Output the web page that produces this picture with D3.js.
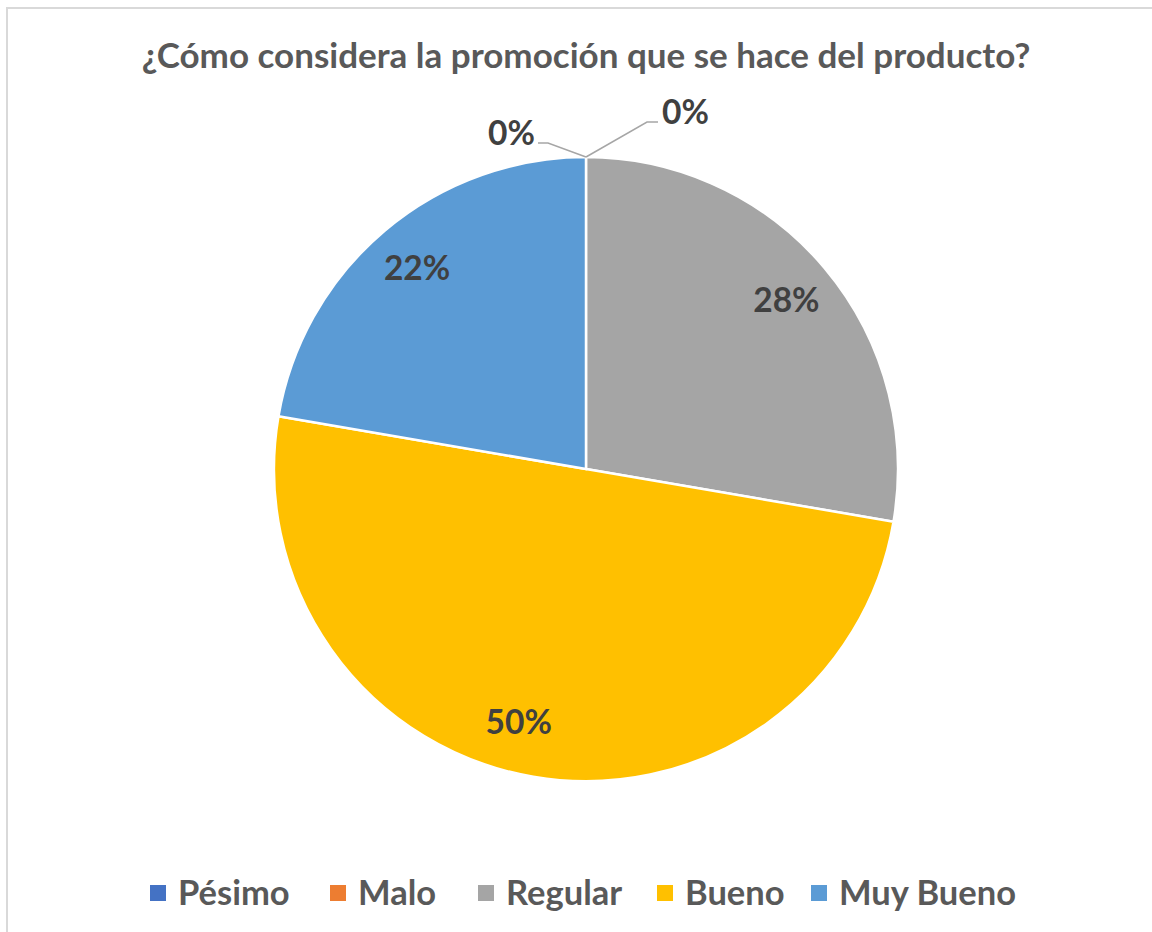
<!DOCTYPE html>
<html>
<head>
<meta charset="utf-8">
<script src="https://cdn.jsdelivr.net/npm/d3@7"></script>
<style>
  body { margin: 0; background: #fff; }
  text { font-family: Lato, "Open Sans", sans-serif; font-weight: 700; }
</style>
</head>
<body>
<div id="chart"></div>
<script>
const title = "¿Cómo considera la promoción que se hace del producto?";
const categories = ["Pésimo", "Malo", "Regular", "Bueno", "Muy Bueno"];
const values = [0, 0, 27.7, 50.0, 22.3];
const colors = ["#4472C4", "#ED7D31", "#A5A5A5", "#FFC000", "#5B9BD5"];

const width = 1152;
const height = 932;
const cx = 586, cy = 469, radius = 312;

const svg = d3.select("#chart")
  .append("svg")
  .attr("width", width)
  .attr("height", height);

// chart border
svg.append("rect")
  .attr("x", 7)
  .attr("y", 8)
  .attr("width", width + 10)
  .attr("height", height + 10)
  .attr("fill", "#fff")
  .attr("stroke", "#d9d9d9")
  .attr("stroke-width", 2);

// title
svg.append("text")
  .attr("x", 586)
  .attr("y", 68)
  .attr("text-anchor", "middle")
  .attr("font-size", 35)
  .attr("fill", "#595959")
  .text(title);

const data = categories.map((c, i) => ({ name: c, value: values[i], color: colors[i] }));

const pie = d3.pie().sort(null).value(d => d.value);
const arcs = pie(data);

const arc = d3.arc().innerRadius(0).outerRadius(radius);
const labelR = radius * 0.84;

const g = svg.append("g").attr("transform", `translate(${cx},${cy})`);

g.selectAll(".slice")
  .data(arcs.filter(d => d.data.value > 0))
  .enter()
  .append("path")
  .attr("class", "slice")
  .attr("d", arc)
  .attr("fill", d => d.data.color)
  .attr("stroke", "#fff")
  .attr("stroke-width", 2.5);

const fmt = v => Math.round(v) + "%";

// Excel's best-fit nudges the big slice label a bit off its middle
function labelPos(d) {
  let a = (d.startAngle + d.endAngle) / 2;
  if (d.data.name === "Bueno") a += 0.09;
  return [labelR * Math.sin(a), -labelR * Math.cos(a)];
}

g.selectAll(".label")
  .data(arcs.filter(d => d.data.value > 0))
  .enter()
  .append("text")
  .attr("class", "label")
  .attr("transform", d => `translate(${labelPos(d)})`)
  .attr("text-anchor", "middle")
  .attr("dy", "0.35em")
  .attr("font-size", 33.5)
  .attr("fill", "#404040")
  .text(d => fmt(d.data.value));

// the two zero slices get leader lines at the top
const zeroLabels = [
  { pts: [[0, -312], [-38, -326], [-48, -326]], x: -51, y: -324, anchor: "end" },
  { pts: [[0, -312], [61, -347], [72, -347]], x: 76, y: -345, anchor: "start" }
];
const zeros = arcs.filter(d => d.data.value === 0);
zeros.forEach((d, i) => {
  const z = zeroLabels[i];
  g.append("polyline")
    .attr("points", z.pts.map(p => p.join(",")).join(" "))
    .attr("fill", "none")
    .attr("stroke", "#a6a6a6")
    .attr("stroke-width", 1.5);
  g.append("text")
    .attr("x", z.x)
    .attr("y", z.y)
    .attr("text-anchor", z.anchor)
    .attr("font-size", 33.5)
    .attr("fill", "#404040")
    .text(fmt(d.data.value));
});

// legend
const legendX = [150, 330, 478, 657, 811];
const legend = svg.append("g");
const items = legend.selectAll(".legend-item")
  .data(data)
  .enter()
  .append("g")
  .attr("class", "legend-item")
  .attr("transform", (d, i) => `translate(${legendX[i]}, 885)`);

items.append("rect")
  .attr("width", 16)
  .attr("height", 16)
  .attr("fill", d => d.color);

items.append("text")
  .attr("x", 28)
  .attr("y", 8)
  .attr("dy", "0.36em")
  .attr("font-size", 34.5)
  .attr("fill", "#595959")
  .text(d => d.name);
</script>
</body>
</html>
